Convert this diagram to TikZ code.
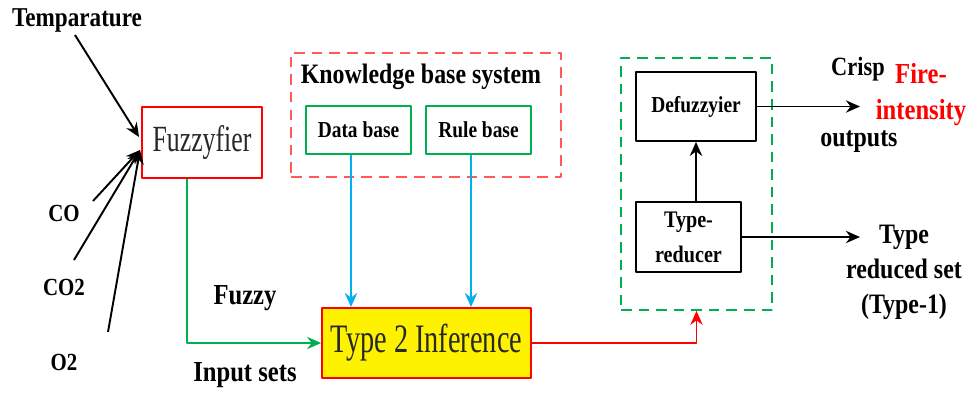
\documentclass[tikz,border=0pt]{standalone}
\usepackage{fontspec}
\setmainfont{Liberation Serif}
\newfontfamily\labfont{Liberation Serif}[FakeStretch=0.85]
\newfontfamily\boxfont{Liberation Serif}[FakeStretch=0.7]
\usetikzlibrary{arrows.meta}
\definecolor{offgreen}{RGB}{0,176,80}
\definecolor{skyblue}{RGB}{0,176,240}
\definecolor{darktext}{RGB}{40,40,40}

\begin{document}
\begin{tikzpicture}[x=0.02cm, y=-0.02cm, >={Stealth[length=8pt,width=7pt]}, line join=round, font=\labfont\bfseries]
	\tikzset{
		lab/.style={inner sep=0pt, align=center, font=\labfont\bfseries\fontsize{#1}{20}\selectfont},
		lab/.default=14,
		blk/.style={draw, line width=1pt, inner sep=0pt, align=center},
		dbox/.style={draw, dash pattern=on 6pt off 4pt, line width=1pt, inner sep=0pt},
		link/.style={->, line width=1.1pt}
	}
	\useasboundingbox (0,0) rectangle (971,393);
	% inputs
	\node [lab=15.5] (temp) at (77,20) {Temparature};
	\node [lab] (co) at (64,213) {CO};
	\node [lab] (coo) at (64,287) {CO2};
	\node [lab] (oo) at (64,362) {O2};
	\path (75,35) coordinate (tempS)
		(93,201) coordinate (coS)
		(74,260) coordinate (cooS)
		(108,332) coordinate (ooS);
	% main blocks
	\node [blk, draw=red, minimum width=2.4cm, minimum height=1.42cm, text=darktext,
		font=\boxfont\fontsize{21}{24}\selectfont] (fuz) at (202,142.5) {Fuzzyfier};
	\node [dbox, draw=red!65, minimum width=5.4cm, minimum height=2.48cm] (kbs) at (426,115) {};
	\node [lab=16] (kbt) at (421,77) {Knowledge base system};
	\node [blk, draw=offgreen, minimum width=2.1cm, minimum height=0.96cm, lab=13] (db) at (358.5,130) {Data base};
	\node [blk, draw=offgreen, minimum width=2.1cm, minimum height=0.96cm, lab=13] (rb) at (478.5,130) {Rule base};
	\node [blk, draw=red, fill=yellow, minimum width=4.18cm, minimum height=1.4cm, text=darktext,
		font=\boxfont\fontsize{23}{24}\selectfont] (inf) at (426.5,343) {Type 2 Inference};
	\node [dbox, draw=offgreen, minimum width=3.02cm, minimum height=5.04cm] (out) at (696.5,184) {};
	\node [blk, minimum width=2.4cm, minimum height=1.38cm, lab=13] (dfz) at (696,106.5) {Defuzzyier};
	\node [blk, minimum width=2.1cm, minimum height=1.4cm, lab=13.5] (tr) at (688.5,237) {Type-\\reducer};
	% side labels
	\node [lab=16.5] (fzl) at (245,298) {Fuzzy};
	\node [lab=16.5] (isl) at (245,375) {Input sets};
	\node [lab=15] (crisp) at (858,69) {Crisp};
	\node [lab=16] (outp) at (859,142) {outputs};
	\node [lab=16.5, text=red] (fire) at (921,94.5) {Fire-\\intensity};
	\node [lab=16] (trs) at (904,272) {Type\\reduced set\\(Type-1)};
	\coordinate (crispE) at (860,106.5);
	\coordinate (trsE) at (860,237);
	% connectors
	\draw [link] (tempS) -- (139,137);
	\foreach \s in {coS,cooS,ooS}{
		\draw [link] (\s) -- (140,150);
	}
	\draw [link, offgreen] ([xshift=-0.3cm]fuz.south) |- (inf.west);
	\draw [link, skyblue] ([xshift=-0.15cm]db.south) -- ([xshift=-0.15cm]db.south |- inf.north);
	\draw [link, skyblue] ([xshift=-0.15cm]rb.south) -- ([xshift=-0.15cm]rb.south |- inf.north);
	\draw [link, red] (inf.east) -| (out.south);
	\draw [link] (dfz.south |- tr.north) -- (dfz.south);
	\draw [link] (dfz.east) -- (crispE);
	\draw [link] (tr.east) -- (trsE);
\end{tikzpicture}
\end{document}
